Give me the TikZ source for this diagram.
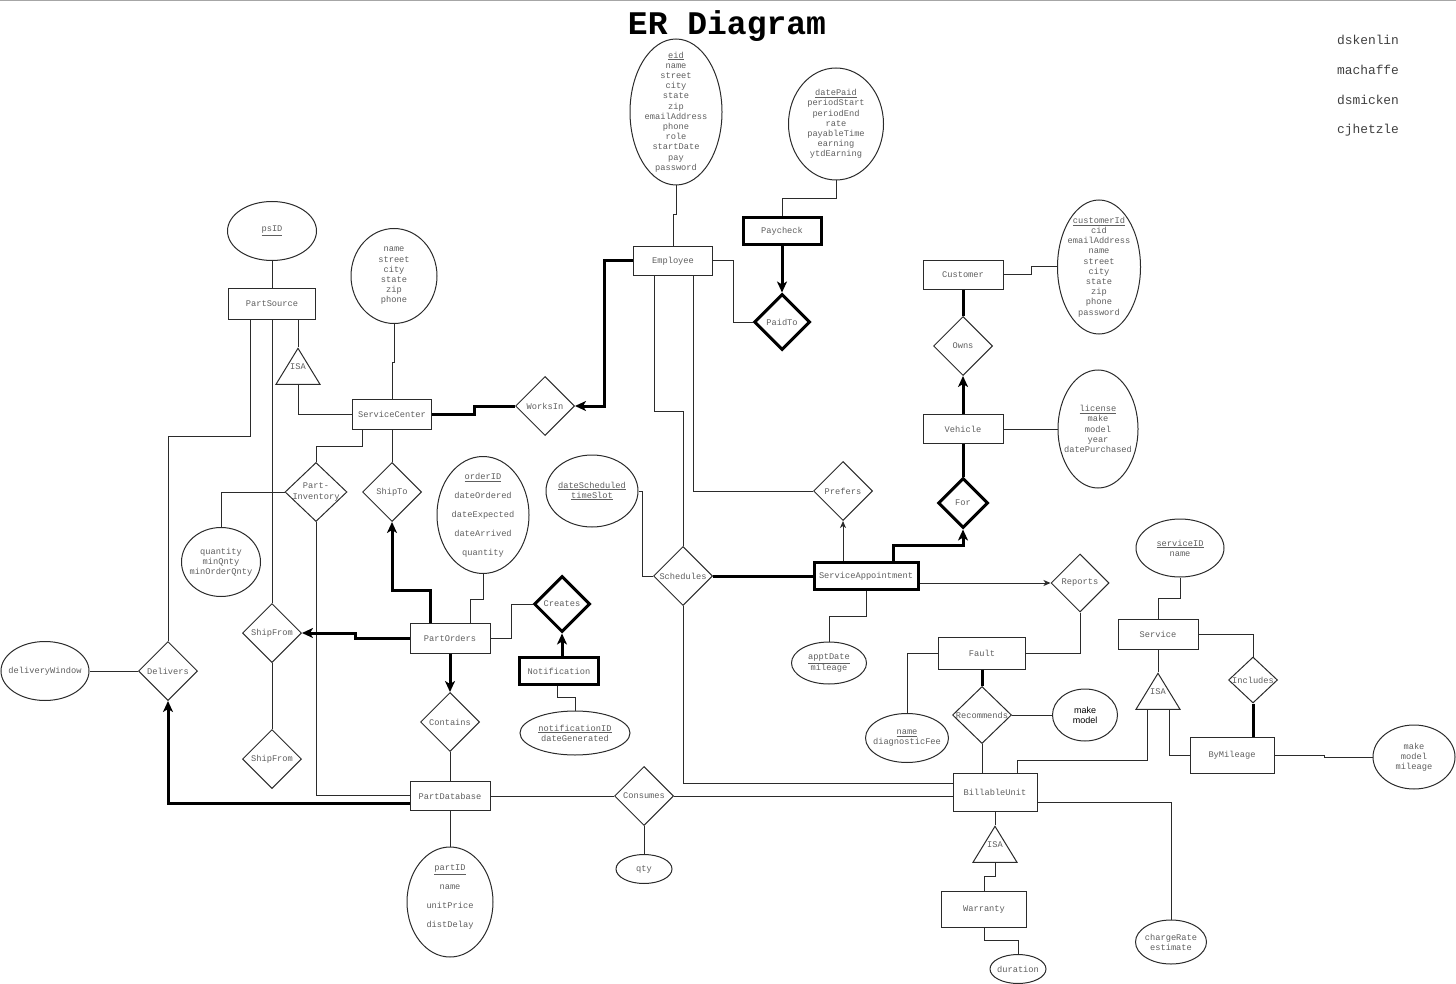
\documentclass[tikz,border=0pt]{standalone}
\usepackage{fontspec}
\setmonofont{Liberation Mono}
\setsansfont{Liberation Sans}
\usetikzlibrary{arrows.meta,shapes.geometric}
\definecolor{inkgray}{HTML}{2B2B2B}
\definecolor{txtgray}{HTML}{5E5E5E}
\newcommand{\erfont}{\ttfamily\fontsize{8.7}{10.2}\selectfont}

\begin{document}
\begin{tikzpicture}[x=1pt,y=-1pt,
  lbl/.style={font=\erfont, text=txtgray, align=center, inner sep=0pt},
  every label/.style={lbl},
  entity/.style={draw=inkgray, line width=1pt, minimum height=30pt, inner sep=0pt, font=\erfont, text=txtgray},
  weakentity/.style={entity, draw=black, line width=3pt},
  rel/.style={diamond, draw=inkgray, line width=1pt, minimum width=59pt, minimum height=59pt, inner sep=0pt},
  weakrel/.style={rel, draw=black, line width=3pt},
  attr/.style 2 args={ellipse, draw=inkgray, line width=1pt, inner sep=0pt, minimum width=#1pt, minimum height=#2pt},
  isa/.style={isosceles triangle, isosceles triangle stretches, shape border rotate=90, draw=inkgray, line width=1pt, minimum width=44pt, minimum height=36pt, inner sep=0pt, font=\erfont, text=txtgray},
  link/.style={draw=inkgray, line width=1pt},
  heavyline/.style={draw=black, line width=3pt},
  arrowhd/.style={-{Stealth[length=11pt,width=10pt,inset=3pt]}},
  arrowsm/.style={-{Stealth[length=7pt,width=6pt,inset=2pt]}}]
\useasboundingbox (0,0) rectangle (1456,984);
\draw[gray!70, line width=1pt] (0,0.5) -- (1456,0.5);

\node[font=\ttfamily\bfseries\fontsize{33}{36}\selectfont] (title) at (727,26) {ER Diagram};
\foreach \who [count=\i] in {dskenlin,machaffe,dsmicken,cjhetzle}
  \node[font=\ttfamily\fontsize{12.9}{15}\selectfont, text=black!75] (author\i) at (1368,10+30*\i) {\who};

\node[entity, minimum width=87pt] (PartSource) at (272,304) {PartSource};
\node[entity, minimum width=79pt] (SC) at (392,414) {ServiceCenter};
\node[entity, minimum width=79pt, minimum height=29pt] (Employee) at (673,261) {Employee};
\node[weakentity, minimum width=78pt, minimum height=27pt] (Paycheck) at (782,231) {Paycheck};
\node[entity, minimum width=80pt, minimum height=29pt] (Customer) at (963,275) {Customer};
\node[entity, minimum width=80pt, minimum height=29pt] (Vehicle) at (963,429) {Vehicle};
\node[weakentity, minimum width=104pt, minimum height=27pt] (SA) at (866,576) {ServiceAppointment};
\node[entity, minimum width=80pt] (PartOrders) at (450,638) {PartOrders};
\node[weakentity, minimum width=79pt, minimum height=27pt] (Notification) at (559,671) {Notification};
\node[entity, minimum width=80pt, minimum height=29pt] (PartDB) at (450,796) {PartDatabase};
\node[entity, minimum width=87pt, minimum height=32pt] (Fault) at (982,653) {Fault};
\node[entity, minimum width=84pt, minimum height=38pt] (BillableUnit) at (995,792) {BillableUnit};
\node[entity, minimum width=80pt] (Service) at (1158,634) {Service};
\node[entity, minimum width=84pt, minimum height=36pt] (ByMileage) at (1232,755) {ByMileage};
\node[entity, minimum width=85pt, minimum height=36pt] (Warranty) at (984,909) {Warranty};

\node[rel, label=center:WorksIn] (WorksIn) at (545,406) {};
\node[weakrel, minimum width=56pt, minimum height=56pt, label=center:PaidTo] (PaidTo) at (782,322) {};
\node[rel, label=center:Owns] (Owns) at (963,346) {};
\node[weakrel, minimum width=50pt, minimum height=50pt, label=center:For] (For) at (963,503) {};
\node[rel, minimum width=62pt, label={center:Part-\\Inventory}] (PartInv) at (316,492) {};
\node[rel, label=center:ShipTo] (ShipTo) at (392,492) {};
\node[rel, label=center:ShipFrom] (ShipFromA) at (272,633) {};
\node[rel, label=center:ShipFrom] (ShipFromB) at (272,759) {};
\node[rel, label=center:Delivers] (Delivers) at (168,671) {};
\node[rel, label=center:Contains] (Contains) at (450,722) {};
\node[weakrel, minimum width=56pt, minimum height=56pt, label=center:Creates] (Creates) at (562,604) {};
\node[rel, label=center:Schedules] (Schedules) at (683,576) {};
\node[rel, label=center:Prefers] (Prefers) at (843,491) {};
\node[rel, minimum width=58pt, minimum height=58pt, label=center:Reports] (Reports) at (1080,583) {};
\node[rel, minimum height=57pt, label=center:Recommends] (Recommends) at (982,715) {};
\node[rel, minimum width=49pt, minimum height=46pt, label=center:Includes] (Includes) at (1253,680) {};
\node[rel, label=center:Consumes] (Consumes) at (644,796) {};

\node[isa, anchor=apex] (isaPS) at (298,347) {\raisebox{7pt}[0pt][0pt]{ISA}};
\node[isa, anchor=apex] (isaSv) at (1158,672) {\raisebox{7pt}[0pt][0pt]{ISA}};
\node[isa, anchor=apex] (isaBU) at (995,825) {\raisebox{7pt}[0pt][0pt]{ISA}};

\node[attr={89}{59}, label={center:\underline{psID}}] (psID) at (272,231) {};
\node[attr={86}{95}, label={center:name\\street\\city\\state\\zip\\phone}] (scAttr) at (394,276) {};
\node[attr={92}{146}, label={center:\underline{eid}\\name\\street\\city\\state\\zip\\emailAddress\\phone\\role\\startDate\\pay\\password}] (eid) at (676,112) {};
\node[attr={95}{112}, label={center:\underline{datePaid}\\periodStart\\periodEnd\\rate\\payableTime\\earning\\ytdEarning}] (datePaid) at (836,124) {};
\node[attr={83}{134}, label={center:\underline{customerId}\\cid\\emailAddress\\name\\street\\city\\state\\zip\\phone\\password}] (custAttr) at (1099,267) {};
\node[attr={80}{118}, label={center:\underline{license}\\make\\model\\year\\datePurchased}] (license) at (1098,429) {};
\node[attr={92}{117}, label={center:\underline{orderID}\\[8.8pt]dateOrdered\\[8.8pt]dateExpected\\[8.8pt]dateArrived\\[8.8pt]quantity}] (orderAttr) at (483,515) {};
\node[attr={79}{69}, label={center:quantity\\minQnty\\minOrderQnty}] (invAttr) at (221,562) {};
\node[attr={88}{59}, label={center:deliveryWindow}] (delivWin) at (45,671) {};
\node[attr={110}{44}, label={center:\underline{notificationID}\\dateGenerated}] (notifAttr) at (575,733) {};
\node[attr={92}{72}, label={center:\underline{dateScheduled}\\\underline{timeSlot}}] (schedAttr) at (592,491) {};
\node[attr={75}{42}, label={center:\underline{apptDate}\\mileage}] (apptAttr) at (829,663) {};
\node[attr={65}{52}, label={[font=\sffamily\fontsize{9}{10}\selectfont, text=black]center:make\\model}] (recAttr) at (1085,715) {};
\node[attr={83}{49}, label={center:\underline{name}\\diagnosticFee}] (faultAttr) at (907,738) {};
\node[attr={88}{58}, label={center:\underline{serviceID}\\name}] (servAttr) at (1180,548) {};
\node[attr={82}{64}, label={center:make\\model\\mileage}] (mileAttr) at (1414,757) {};
\node[attr={56}{29}, label={center:qty}] (qty) at (644,869) {};
\node[attr={86}{110}, label={[yshift=5pt]center:\underline{partID}\\[8.5pt]name\\[8.5pt]unitPrice\\[8.5pt]distDelay}] (partAttr) at (450,902) {};
\node[attr={56}{29}, label={center:duration}] (duration) at (1018,969) {};
\node[attr={71}{44}, label={center:chargeRate\\estimate}] (chargeAttr) at (1171,942) {};

\draw[link] (psID) -- (PartSource);
\draw[link] ([xshift=-22pt]PartSource.south) -- ++(0,117) -| (Delivers.north);
\draw[link] (PartSource.south) -- (ShipFromA.north);
\draw[link] ([xshift=26pt]PartSource.south) -- (isaPS.apex);
\draw[link] (isaPS.lower side) |- (SC.west);
\draw[link] (scAttr.south) -- ++(0,38) -| (SC.north);
\draw[heavyline] (SC.east) -- ++(42,0) |- (WorksIn.west);
\draw[heavyline, arrowhd] (Employee.west) -- ++(-29,0) |- (WorksIn.east);
\draw[link] ([xshift=-30pt]SC.south) -- ++(0,17) -| (PartInv.north);
\draw[link] (SC.south) -- (ShipTo.north);
\draw[link] (PartInv.west) -| (invAttr.north);
\draw[link] (PartInv.south) |- ([yshift=1pt]PartDB.west);
\draw[heavyline, arrowhd] ([yshift=-7pt]PartDB.west) -| (Delivers.south);
\draw[link] (ShipFromA) -- (ShipFromB);
\draw[link] (Delivers) -- (delivWin);
\draw[heavyline, arrowhd] (PartOrders.west) -- ++(-54,0) |- (ShipFromA.east);
\draw[heavyline, arrowhd] ([xshift=-20pt]PartOrders.north) -- ++(0,-32) -| (ShipTo.south);
\draw[link] (orderAttr.south) -- ++(0,25) -| ([xshift=20pt]PartOrders.north);
\draw[link] (PartOrders.east) -- ++(21,0) |- (Creates.west);
\draw[heavyline, arrowhd] (Creates.south |- Notification.north) -- (Creates.south);
\draw[link] ([xshift=-2pt]Notification.south) -- ++(0,11) -| (notifAttr.north);
\draw[heavyline, arrowhd] (PartOrders.south) -- (Contains.north);
\draw[link] (Contains) -- (PartDB);
\draw[link] (PartDB) -- (partAttr);
\draw[link] (PartDB.east) -- (Consumes.west);
\draw[link] (Consumes.east) -- (Consumes.east -| BillableUnit.west);
\draw[link] (Consumes) -- (qty);
\draw[link] (Schedules.south) |- ([yshift=9pt]BillableUnit.west);
\draw[link] (Schedules.west) -- ++(-11,0) |- (schedAttr.east);
\draw[link] ([xshift=-19pt]Employee.south) -- ++(0,135) -| (Schedules.north);
\draw[link] ([xshift=20pt]Employee.south) |- (Prefers.west);
\draw[heavyline] (Schedules.east) -- (SA.west);
\draw[link, arrowsm] (SA.north -| Prefers.south) -- (Prefers.south);
\draw[heavyline, arrowhd] ([xshift=27pt]SA.north) -- ++(0,-16) -| (For.south);
\draw[link, arrowsm] ([yshift=-7pt]SA.east) -- (Reports.west);
\draw[link] (SA.south) -- ++(0,25) -| (apptAttr.north);
\draw[link] (Reports.south) |- (Fault.east);
\draw[link] (Fault.west) -| (faultAttr.north);
\draw[heavyline] (Fault.south) -- (Recommends.north);
\draw[link] (Recommends) -- (recAttr);
\draw[link] (Recommends.south) -- (Recommends.south |- BillableUnit.north);
\draw[link] ([xshift=-11pt]isaSv.lower side) -- ++(0,51) -| ([xshift=22pt]BillableUnit.north);
\draw[link] ([xshift=11pt]isaSv.lower side) |- (ByMileage.west);
\draw[link] (Service.south) -- (isaSv.apex);
\draw[link] (Service.east) -| (Includes.north);
\draw[heavyline] (Includes.south) -- (Includes.south |- ByMileage.north);
\draw[link] (ByMileage.east) -- ++(50,0) |- (mileAttr.west);
\draw[link] (servAttr.south) -- ++(0,21) -| (Service.north);
\draw[link] ([yshift=-10pt]BillableUnit.east) -| (chargeAttr.north);
\draw[link] (BillableUnit.south) -- (isaBU.apex);
\draw[link] (isaBU.lower side) -- ++(0,14) -| (Warranty.north);
\draw[link] (Warranty.south) -- ++(0,13) -| (duration.north);
\draw[heavyline, arrowhd] (Vehicle.north) -- (Owns.south);
\draw[heavyline] (Customer.south) -- (Owns.north);
\draw[link] (Customer.east) -- ++(28,0) |- (custAttr.west);
\draw[link] (Vehicle) -- (license);
\draw[heavyline] (For.north) -- (Vehicle.south);
\draw[link] (eid.south) -- ++(0,29) -| (Employee.north);
\draw[link] (datePaid.south) -- ++(0,18) -| (Paycheck.north);
\draw[heavyline, arrowhd] (Paycheck.south) -- (PaidTo.north);
\draw[link] (Employee.east) -- ++(20,0) |- (PaidTo.west);
\end{tikzpicture}
\end{document}
